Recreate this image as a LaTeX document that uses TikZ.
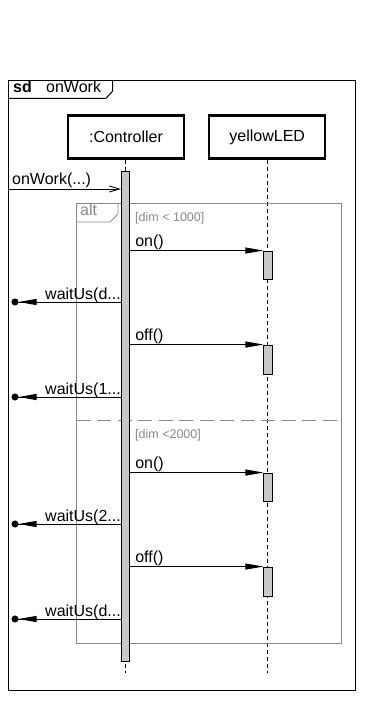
\documentclass[tikz,border=0pt]{standalone}
\usepackage{fontspec}
\setmainfont{Liberation Sans}
\usetikzlibrary{arrows.meta,positioning,calc}
\definecolor{altgray}{RGB}{136,136,136}
\definecolor{actgray}{RGB}{200,200,200}
\newcommand{\msgdots}{...}

\begin{document}
\begin{tikzpicture}[
  x=1pt,y=-1pt,
  font=\fontsize{16}{19}\selectfont,
  obj/.style={draw=black,line width=2.5pt,fill=white,minimum width=116pt,minimum height=43pt,inner sep=0pt},
  act/.style={draw=black,line width=0.9pt,fill=actgray,minimum width=8.3pt,minimum height=#1,inner sep=0pt},
  life/.style={line width=0.9pt,dash pattern=on 4pt off 3pt},
  lbl/.style={anchor=base west,inner sep=0pt},
  guard/.style={anchor=base west,inner sep=0pt,text=altgray,font=\fontsize{12.5}{15}\selectfont},
  msg/.style={line width=0.9pt,-{Triangle[length=18pt,width=6pt]}},
  lost/.style={line width=0.9pt,-{Triangle[length=18pt,width=6pt] Circle[length=7pt]}},
  call/.style={line width=0.9pt,-{Straight Barb[length=10pt,width=6pt]}},
  altframe/.style={draw=altgray,line width=0.9pt},
]
\useasboundingbox (0,0) rectangle (365,703);

% ---- sd frame ----
\draw[line width=1pt] (8.3,81) rectangle (355.7,690);
\draw[line width=1pt] (8.3,98.3) -- (106,98.3) -- (112.7,91) -- (112.7,81);
\node[lbl,font=\fontsize{16}{19}\selectfont\bfseries] (SD) at (13,93) {sd};
\node[lbl] (SDN) at (46,93) {onWork};

% ---- lifelines ----
\node[obj] (CTL) at (126,137) {:Controller};
\node[obj] (LED) at (267.2,137) {yellowLED};
\coordinate (CEND) at (125.5,673);
\coordinate (LEND) at (267.5,673);
\draw[life] (CTL.south -| CEND) -- (CEND);
\draw[life] (LED.south -| LEND) -- (LEND);

% ---- alt fragment ----
\draw[altframe] (76.7,203.3) rectangle (341.7,643);
\draw[altframe] (76.7,222) -- (110,222) -- (118,214) -- (118,203.3);
\node[lbl,text=altgray] (ALT) at (80,215) {alt};
\draw[altframe,dash pattern=on 14pt off 6.5pt] (76.7,420) -- (341.7,420);
\node[guard] (G1) at (135,222) {[dim < 1000]};
\node[guard] (G2) at (135,438) {[dim <2000]};

% ---- activations ----
\node[act=490.6pt] (CACT) at (125.5,416.5) {};
\node[act=28pt] (ON1) at (268,265) {};
\node[act=29pt] (OFF1) at (268,359.5) {};
\node[act=28pt] (ON2) at (268,487) {};
\node[act=29pt] (OFF2) at (268,581.5) {};

% ---- messages ----
\coordinate (GATE) at (8.3,189);
\draw[call] (GATE) -- (GATE -| CACT.west);
\node[lbl] at (12,185) {onWork(\msgdots)};

\foreach \a/\t in {ON1/on(),OFF1/off(),ON2/on(),OFF2/off()} {
  \draw[msg] (CACT.east |- \a.north) -- (\a.north west);
  \node[lbl] at ($(CACT.east |- \a.north)+(5,-4.5)$) {\t};
}

\foreach \n/\y/\t in {1/302/d,2/397/1,3/524/2,4/619/d} {
  \coordinate (LOST\n) at (11.5,\y);
  \draw[lost] (CACT.west |- LOST\n) -- (LOST\n);
  \node[lbl] at (45,\y-3) {waitUs(\t\msgdots};
}
\end{tikzpicture}
\end{document}
